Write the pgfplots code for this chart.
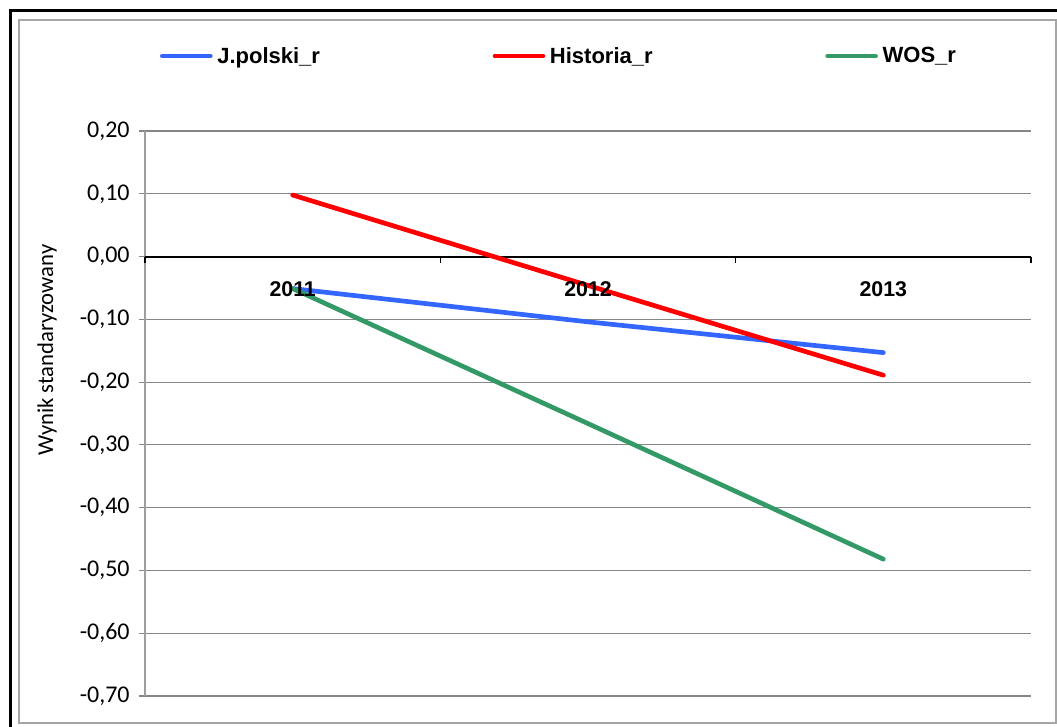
\documentclass[border=0pt]{standalone}
\usepackage{fontspec}
\setmainfont{Carlito}
\newfontfamily\arialb{Liberation Sans}[BoldFont={Liberation Sans Bold}]
\usepackage{pgfplots}
\pgfplotsset{compat=1.18}

\definecolor{cjpol}{RGB}{51,102,255}
\definecolor{chist}{RGB}{255,0,0}
\definecolor{cwos}{RGB}{51,153,102}
\definecolor{gridc}{RGB}{134,134,134}

\begin{document}
\begin{tikzpicture}
% 1px = 0.75pt, canvas 1057x726 px
\path[use as bounding box] (0,0) rectangle (792.75pt,-544.5pt);
\draw[line width=2.25pt] (7.5pt,-600pt) -- (7.5pt,-7.5pt) -- (900pt,-7.5pt);
\draw[gray!70, line width=1.1pt] (14.25pt,-15pt) rectangle (792pt,-542.25pt);

\begin{axis}[
    at={(108.75pt,-522pt)}, anchor=south west,
    scale only axis,
    width=664.5pt, height=423.75pt,
    xmin=0.5, xmax=3.5,
    ymin=-0.7, ymax=0.2,
    ytick={-0.7,-0.6,-0.5,-0.4,-0.3,-0.2,-0.1,0,0.1,0.2},
    axis x line=none,
    axis y line*=left,
    y axis line style={gridc!80, line width=0.9pt},
    ymajorgrids,
    grid style={gridc, line width=0.8pt},
    extra y ticks={0},
    extra y tick labels={},
    extra y tick style={grid style={black, line width=1.4pt}, major tick style={black, line width=1pt}},
    tick align=outside,
    major tick length=4.5pt,
    ytick style={gridc, line width=0.8pt},
    yticklabel style={font=\fontsize{18}{20}\selectfont, anchor=east, xshift=-3.5pt,
        /pgf/number format/fixed, /pgf/number format/fixed zerofill,
        /pgf/number format/precision=2, /pgf/number format/use comma,
        /pgf/number format/assume math mode=true},
    clip=false,
    legend columns=3,
    legend style={draw=none, fill=none, at={(0.0169,1.1327)}, anchor=west,
        inner sep=0pt, outer sep=0pt,
        font=\arialb\bfseries\fontsize{16.5}{18}\selectfont,
        nodes={inner sep=0pt, text width=206.5pt, align=left},
        /tikz/every odd column/.append style={column sep=3.5pt}},
    legend image code/.code={\draw[#1, line width=3.5pt, line cap=round] (0pt,0pt) -- (36pt,0pt);},
]
\addplot[cjpol, line width=3.5pt, line cap=round] coordinates {(1,-0.051) (2,-0.104) (3,-0.153)};
\addlegendentry{J.polski\_r}
\addplot[chist, line width=3.5pt, line cap=round] coordinates {(1,0.098) (2,-0.046) (3,-0.189)};
\addlegendentry{Historia\_r}
\addplot[cwos, line width=3.5pt, line cap=round] coordinates {(1,-0.051) (2,-0.266) (3,-0.482)};
\addlegendentry{WOS\_r}

\foreach \t in {0.5,1.5,2.5,3.5} {
  \edef\temp{\noexpand\draw[black, line width=0.9pt] (axis cs:\t,0) -- ++(0pt,-5pt);}
  \temp
}
\node[font=\arialb\bfseries\fontsize{16}{18}\selectfont] at (axis cs:1,-0.052) {2011};
\node[font=\arialb\bfseries\fontsize{16}{18}\selectfont] at (axis cs:2,-0.052) {2012};
\node[font=\arialb\bfseries\fontsize{16}{18}\selectfont] at (axis cs:3,-0.052) {2013};
\end{axis}

\node[rotate=90, font=\fontsize{17}{19}\selectfont] at (35.25pt,-262.5pt) {Wynik standaryzowany};
\end{tikzpicture}
\end{document}
